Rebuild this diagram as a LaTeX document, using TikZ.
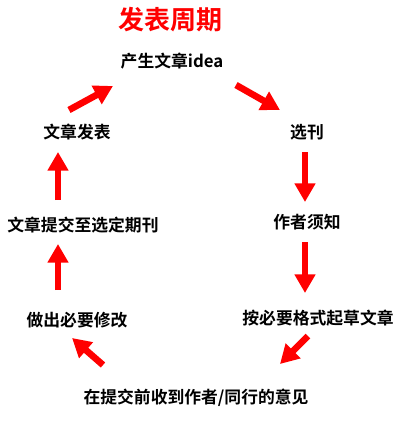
\documentclass[tikz,border=0pt]{standalone}
\usepackage{fontspec}
\usepackage{xcolor}
\usepackage{tikz}
\usetikzlibrary{positioning, calc, arrows.meta}
\setmainfont{Noto Sans CJK SC}[BoldFont={Noto Sans CJK SC Bold}]
\definecolor{arrowred}{RGB}{255,0,0}

\begin{document}
\begin{tikzpicture}[x=0.75pt,y=-0.75pt,
    stagebox/.style={font=\bfseries\fontsize{12.6}{14}\selectfont, inner sep=0pt},
    bigarrow/.style={arrowred, line width=5pt, -{Triangle[width=15pt,length=14pt]}}]
        \useasboundingbox (0,0) rectangle (407,425);
        \node[font=\bfseries\fontsize{19.5}{22}\selectfont, text=arrowred, inner sep=0pt] (title) at (170,20) {发表周期};
        \node[stagebox] (idea) at (172,61) {产生文章idea};
        \node[stagebox] (xuankan) at (307,132) {选刊};
        \node[stagebox] (xuzhi) at (307,222) {作者须知};
        \node[stagebox] (qicao) at (318,318) {按必要格式起草文章};
        \node[stagebox] (yijian) at (196,398) {在提交前收到作者/同行的意见};
        \node[stagebox] (xiugai) at (77,320) {做出必要修改};
        \node[stagebox] (tijiao) at (83,225) {文章提交至选定期刊};
        \node[stagebox] (fabiao) at (77,132) {文章发表};
        \draw[bigarrow] ([shift={(64,24)}]idea.center) -- ([shift={(-27,-22)}]xuankan.center);
        \draw[bigarrow] ([shift={(-2,20)}]xuankan.center) -- ([shift={(-2,-20)}]xuzhi.center);
        \draw[bigarrow] ([shift={(-2,20)}]xuzhi.center) -- ([shift={(-13,-25)}]qicao.center);
        \draw[bigarrow] ([shift={(-10,18)}]qicao.center) -- ([shift={(84,-34)}]yijian.center);
        \draw[bigarrow] ([shift={(-93,-33)}]yijian.center) -- ([shift={(-5,18)}]xiugai.center);
        \draw[bigarrow] ([shift={(-19,-30)}]xiugai.center) -- ([shift={(-25,19)}]tijiao.center);
        \draw[bigarrow] ([shift={(-25,-25)}]tijiao.center) -- ([shift={(-19,20)}]fabiao.center);
        \draw[bigarrow] ([shift={(-8,-22)}]fabiao.center) -- ([shift={(-59,25)}]idea.center);
    \end{tikzpicture}
\end{document}
